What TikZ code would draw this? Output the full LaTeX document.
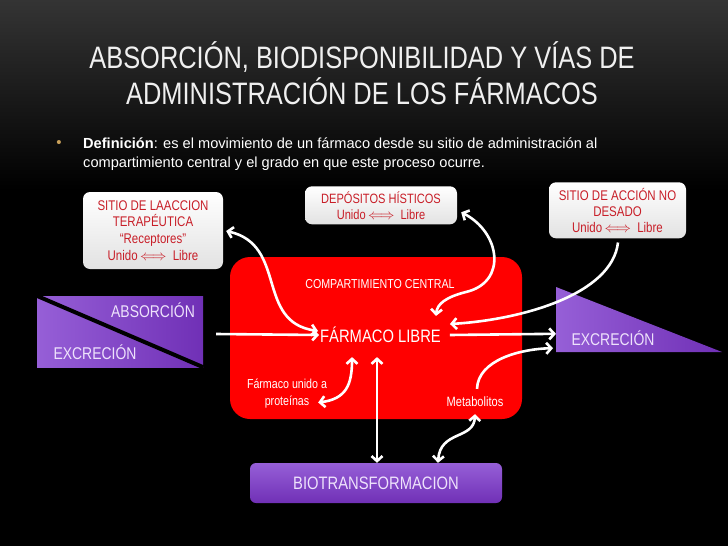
\documentclass[tikz,border=0pt]{standalone}
\usepackage{fontspec}
\setmainfont[FakeStretch=0.82]{Liberation Sans}
\newfontfamily\deffont{Liberation Sans}
\usetikzlibrary{arrows.meta,calc}
\definecolor{txtred}{RGB}{200,30,40}
\definecolor{bggray}{RGB}{52,52,52}
\definecolor{purpL}{RGB}{150,95,215}
\definecolor{purpD}{RGB}{112,48,182}
\definecolor{lav}{RGB}{238,226,252}
\definecolor{boxgray}{RGB}{226,226,226}
\definecolor{bulletcol}{RGB}{200,160,90}
\tikzset{
  titletext/.style={text=white!94!black, font=\fontsize{31}{34}\selectfont, inner sep=0},
  deftext/.style={anchor=base west, text=white, font=\deffont\fontsize{14.6}{19}\selectfont, inner sep=0},
  wbox/.style={rounded corners=7pt, top color=white, bottom color=boxgray, text=txtred, align=center, inner sep=0},
  wtext/.style={text=white, inner sep=1pt},
  ltext/.style={text=lav, inner sep=1pt, font=\fontsize{17}{17}\selectfont},
  arr/.style={draw=white, line width=2.6pt, -{Straight Barb[length=5pt,width=11pt]}},
  dbl/.style={draw=white, line width=2.6pt, {Straight Barb[length=5pt,width=11pt]}-{Straight Barb[length=5pt,width=11pt]}}
}
\begin{document}
\begin{tikzpicture}[x=1pt,y=-1pt]
\fill[black] (0,0) rectangle (728,546);
\shade[top color=bggray, bottom color=black] (0,0) rectangle (728,190);
\useasboundingbox (0,0) rectangle (728,546);

% title
\node[titletext] (t1) at (362,57) {ABSORCIÓN, BIODISPONIBILIDAD Y VÍAS DE};
\node[titletext] (t2) at (362,91) {ADMINISTRACIÓN DE LOS FÁRMACOS};

% definition
\node[text=bulletcol, font=\deffont\fontsize{15}{15}\selectfont, inner sep=0] (bul) at (59,144) {•};
\node[deftext] (def1) at (83,148) {\textbf{Definición}: es el movimiento de un fármaco desde su sitio de administración al};
\node[deftext] (def2) at (83,167) {compartimiento central y el grado en que este proceso ocurre.};

% white boxes
\node[wbox, minimum width=140, minimum height=77, font=\fontsize{14}{16.7}\selectfont] (s1) at (153,230.5)
  {SITIO DE LAACCION\\TERAPÉUTICA\\“Receptores”\\Unido\,$\Longleftrightarrow$\ \ Libre};
\node[wbox, minimum width=152, minimum height=38, font=\fontsize{13.5}{16}\selectfont] (s2) at (381,205.3)
  {DEPÓSITOS HÍSTICOS\\Unido\,$\Longleftrightarrow$\ \ Libre};
\node[wbox, minimum width=137, minimum height=56, font=\fontsize{14}{16}\selectfont] (s3) at (617.5,210.3)
  {SITIO DE ACCIÓN NO\\DESADO\\Unido\,$\Longleftrightarrow$\ \ Libre};

% central compartment
\node[fill=red, rounded corners=20pt, minimum width=292, minimum height=162, inner sep=0] (cc) at (376,338) {};
\node[wtext, font=\fontsize{13}{13}\selectfont] (cct) at (380,284) {COMPARTIMIENTO CENTRAL};
\node[wtext, font=\fontsize{18}{18}\selectfont] (fl) at (380.5,335) {FÁRMACO LIBRE};
\node[wtext, align=center, font=\fontsize{13}{17}\selectfont] (fu) at (287,393.5) {Fármaco unido a\\proteínas};
\node[wtext, font=\fontsize{13.5}{13.5}\selectfont] (met) at (475,402) {Metabolitos};

% absorption / excretion box
\node[left color=purpL, right color=purpD, minimum width=166, minimum height=71, inner sep=0] (absbox) at (120,331.5) {};
\draw[black, line width=4pt] (absbox.north west) -- (absbox.south east);
\node[ltext] (abs) at (153,310) {ABSORCIÓN};
\node[ltext] (exl) at (95,352) {EXCRECIÓN};

% excretion triangle
\coordinate (tri1) at (556,287);
\coordinate (tri2) at (556,352);
\coordinate (tri3) at (722,352);
\shade[left color=purpL, right color=purpD] (tri1) -- (tri2) -- (tri3) -- cycle;
\node[ltext] (exr) at (613,338) {EXCRECIÓN};

% biotransformation
\node[rounded corners=6pt, top color=purpL, bottom color=purpD, minimum width=252, minimum height=40, inner sep=0,
  text=lav, font=\fontsize{18}{18}\selectfont] (bio) at (376,483) {BIOTRANSFORMACION};

% connectors
\draw[arr] ($(absbox.east)+(13,2.5)$) -- (fl.west);
\draw[arr] ($(fl.east)+(8,0)$) -- ($(tri1)!0.72!(tri2)$);
\draw[dbl] ($(s1.east)+(3,0.5)$) .. controls (288,245) and (255,322) .. ($(fl.west)+(-1,-4)$);
\draw[dbl] ($(s2.east)+(4,7)$) .. controls (500,232) and (508,282) .. (466,292)
  .. controls (446,297) and (437,304) .. ($(fl.north east)+(-6,-10)$);
\draw[arr] ($(s3.south)+(0.5,4)$) .. controls (612,295) and (520,320) .. ($(fl.east)+(8,-11)$);
\draw[dbl] ($(fl.south west)+(33,13)$) .. controls (352,385) and (346,399) .. ($(fu.east)+(-10,9)$);
\draw[dbl] ($(fl.south)+(-3.5,13)$) -- ($(bio.north)+(1,0)$);
\draw[arr, shorten >=3pt] ($(met.north)+(2,-7)$) .. controls (478,360) and (520,349) .. ($(tri1)!0.94!(tri2)$);
\draw[dbl] ($(met.south)+(0,6)$) .. controls (474,440) and (440,430) .. ($(bio.north)+(62,0)$);
\end{tikzpicture}
\end{document}
